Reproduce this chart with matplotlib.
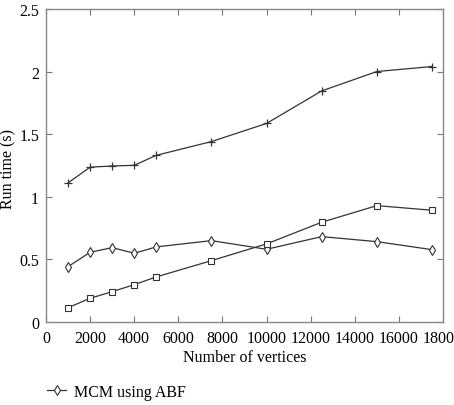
import matplotlib
matplotlib.use('Agg')
import matplotlib.pyplot as plt

# data
vertices = [1000, 2000, 3000, 4000, 5000, 7500, 10000, 12500, 15000, 17500]
plus_times = [1.11, 1.235, 1.245, 1.25, 1.33, 1.44, 1.585, 1.845, 2.0, 2.04]
abf_times = [0.44, 0.555, 0.592, 0.547, 0.598, 0.648, 0.579, 0.68, 0.64, 0.576]
square_times = [0.112, 0.187, 0.24, 0.296, 0.358, 0.488, 0.622, 0.795, 0.928, 0.891]
x_ticks = list(range(0, 18001, 2000))
y_ticks = [0, 0.5, 1, 1.5, 2, 2.5]

plt.rcParams['font.family'] = ['Liberation Serif', 'DejaVu Serif']
plt.rcParams['font.size'] = 11.5

fig = plt.figure(figsize=(4.54, 4.06), dpi=100)
ax = fig.add_axes([0.1013, 0.2052, 0.8745, 0.7702])

line_kw = dict(color='#333333', lw=0.9, markerfacecolor='white', markeredgecolor='#333333')
ax.plot(vertices, plus_times, marker='+', ms=6, mew=0.9, **line_kw)
h_abf, = ax.plot(vertices, abf_times, marker='d', ms=5.5, mew=0.8, label='MCM using ABF', **line_kw)
ax.plot(vertices, square_times, marker='s', ms=3.8, mew=0.8, **line_kw)

ax.set_xlim(0, 18000)
ax.set_ylim(0, 2.5)
ax.set_xticks(x_ticks)
ax.set_yticks(y_ticks)
ax.set_yticklabels(['0', '0.5', '1', '1.5', '2', '2.5'])
ax.tick_params(direction='in', top=True, right=True, length=4, color='#777777')
ax.tick_params(axis='x', pad=6)
ax.tick_params(axis='y', pad=5)
for s in ax.spines.values():
    s.set_color('#888888')
    s.set_linewidth(1.0)

ax.set_xlabel('Number of vertices', labelpad=2)
ax.set_ylabel('Run time (s)', va='center')
ax.yaxis.set_label_coords(-0.094, 0.49)

fig.legend(handles=[h_abf], loc='center left', bbox_to_anchor=(0.1035, 0.032),
           frameon=False, handlelength=1.2, handletextpad=0.5,
           borderpad=0, borderaxespad=0, fontsize=11.5)

fig.savefig('out.png', dpi=100)
